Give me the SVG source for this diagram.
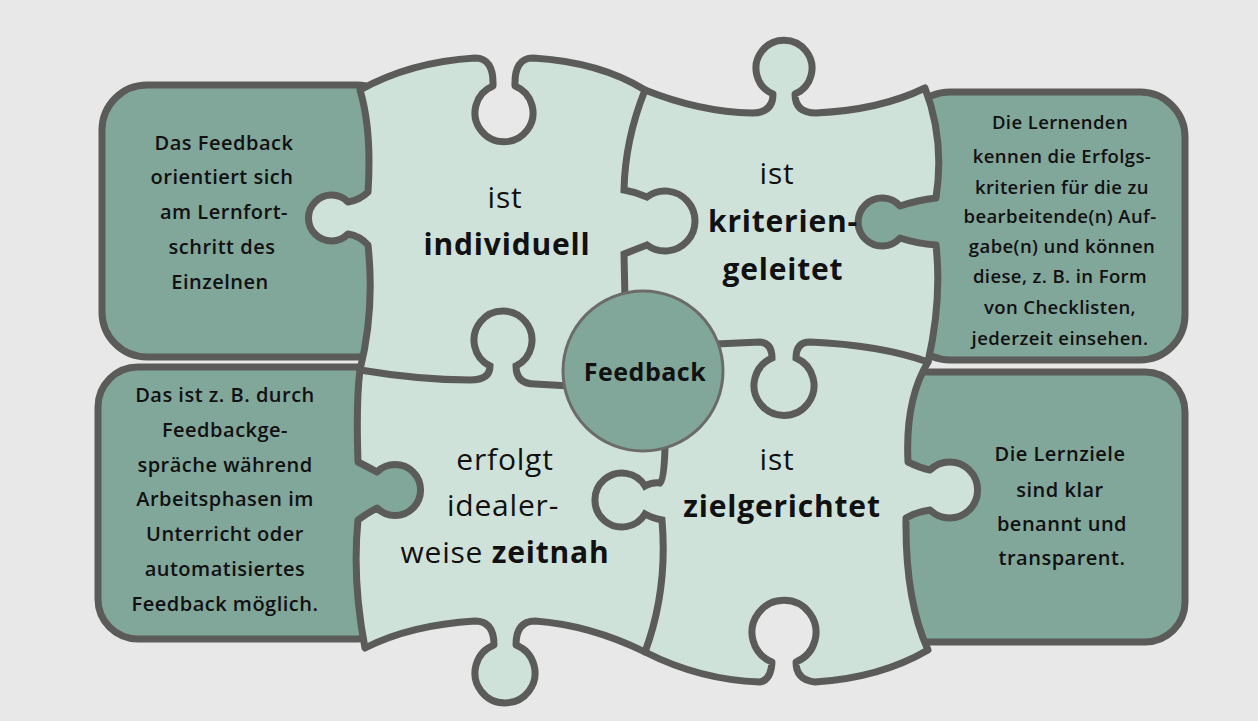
<svg xmlns="http://www.w3.org/2000/svg" width="1258" height="721" viewBox="0 0 1258 721">
<style>
.dark{fill:#81a69a;stroke:#5b5b59;stroke-width:7}
.df{fill:#81a69a}
.lf{fill:#cfe2d9}
.ls{fill:none;stroke:#5b5b59;stroke-width:7;stroke-linejoin:round}
.line{fill:none;stroke:#5b5b59;stroke-width:7;stroke-linecap:round}
text{font-family:"Open Sans","Liberation Sans",sans-serif;fill:#111;text-anchor:middle;font-weight:500}
.big{font-size:30px;letter-spacing:0.8px}
.small{font-size:20px;letter-spacing:0.5px;font-weight:600}
.sm2{font-size:18.5px;letter-spacing:0.4px;font-weight:600}
.small text,.sm2 text{font-weight:600}
.b{font-weight:bold}
</style>
<defs>
<path id="outline" d="M 360 90 Q 410 62 475 58 Q 494 58 493 86 A 29 29 0 1 0 515 86 Q 514 58 533 58 Q 600 62 645 90 Q 700 112 752 113 Q 773 113 773 94 A 28 28 0 1 1 795 94 Q 795 113 816 113 Q 880 110 925 88 Q 945 140 936 198 Q 918 200 900 206 A 24 24 0 1 0 900 238 Q 918 244 936 245 Q 942 300 928 362 Q 905 400 908 462 Q 920 468 930 470 A 28 28 0 1 1 930 510 Q 916 512 906 518 Q 905 600 928 650 Q 880 678 815 682 Q 796 680 796 662 A 32 32 0 1 0 772 662 Q 771 680 760 682 Q 700 680 645 652 Q 590 625 535 621 Q 516 621 516 645 A 30 30 0 1 1 494 645 Q 494 621 475 621 Q 410 625 365 648 Q 352 580 358 520 Q 366 514 377 508 A 25.5 25.5 0 1 0 377 472 Q 366 466 358 462 Q 356 400 360 370 Q 375 310 368 245 Q 360 236 348 234 A 23 23 0 1 1 348 202 Q 360 200 368 192 Q 372 130 360 90 Z"/>
</defs>
<rect width="1258" height="721" fill="#e8e8e8"/>
<g id="box-tl"><rect class="dark" x="102" y="85" width="300" height="272" rx="45"/></g>
<g id="box-bl"><rect class="dark" x="98" y="367" width="300" height="272" rx="40"/></g>
<g id="box-tr"><rect class="dark" x="905" y="92" width="280" height="268" rx="45"/></g>
<g id="box-br"><rect class="dark" x="880" y="372" width="305" height="270" rx="40"/></g>
<g id="puzzle">
<use href="#outline" class="lf"/>
<path class="df" d="M 940 200 L 900 206 A 24 24 0 1 0 900 238 L 940 244 Z"/>
<path class="df" d="M 354 510 L 377 508 A 25.5 25.5 0 1 0 377 472 L 354 466 Z"/>
<use href="#outline" class="ls"/>
</g>
<g id="connectors">
<path class="line" d="M 645 90 Q 625 140 624 190 Q 636 192 647 197 A 30 30 0 1 1 647 245 Q 634 250 624 254 L 625 300"/>
<path class="line" d="M 360 370 Q 420 380 470 380 Q 490 380 490 366 A 29 29 0 1 1 516 366 Q 516 384 535 384 L 570 386"/>
<path class="line" d="M 716 344 L 760 342 Q 772 343 772 358 A 30 30 0 1 0 796 358 Q 796 342 810 342 Q 880 345 928 362"/>
<path class="line" d="M 665 448 Q 664 480 660 483 Q 652 482 645 486 A 27 27 0 1 0 645 514 Q 652 518 662 520 Q 668 590 645 652"/>
</g>
<g id="center"><circle cx="643" cy="371" r="80" fill="#81a69a" stroke="#6b6b69" stroke-width="3"/>
<text x="645" y="381" font-size="25" class="b" letter-spacing="0.5">Feedback</text></g>
<g id="t-tl"><text class="big" x="505" y="208">ist</text><text class="big b" x="507" y="255">individuell</text></g>
<g id="t-tr"><text class="big" x="777" y="184">ist</text><text class="big b" x="783" y="232">kriterien-</text><text class="big b" x="783" y="280">geleitet</text></g>
<g id="t-bl"><text class="big" x="505" y="470">erfolgt</text><text class="big" x="503" y="516">idealer-</text><text class="big" x="505" y="563">weise <tspan class="b">zeitnah</tspan></text></g>
<g id="t-br"><text class="big" x="777" y="470">ist</text><text class="big b" x="782" y="517">zielgerichtet</text></g>
<g id="txt-tl" class="small"><text x="224" y="150">Das Feedback</text><text x="222" y="184">orientiert sich</text><text x="224" y="219">am Lernfort-</text><text x="222" y="254">schritt des</text><text x="220" y="289">Einzelnen</text></g>
<g id="txt-bl" class="small"><text x="225" y="402">Das ist z. B. durch</text><text x="225" y="437">Feedbackge-</text><text x="225" y="472">spräche während</text><text x="225" y="506">Arbeitsphasen im</text><text x="225" y="541">Unterricht oder</text><text x="225" y="576">automatisiertes</text><text x="225" y="611">Feedback möglich.</text></g>
<g id="txt-tr" class="sm2"><text x="1060" y="129">Die Lernenden</text><text x="1062" y="163">kennen die Erfolgs-</text><text x="1062" y="194">kriterien für die zu</text><text x="1060" y="223">bearbeitende(n) Auf-</text><text x="1062" y="253">gabe(n) und können</text><text x="1060" y="283">diese, z. B. in Form</text><text x="1060" y="314">von Checklisten,</text><text x="1060" y="345">jederzeit einsehen.</text></g>
<g id="txt-br" class="small"><text x="1060" y="461">Die Lernziele</text><text x="1060" y="497">sind klar</text><text x="1062" y="531">benannt und</text><text x="1062" y="565">transparent.</text></g>
</svg>
